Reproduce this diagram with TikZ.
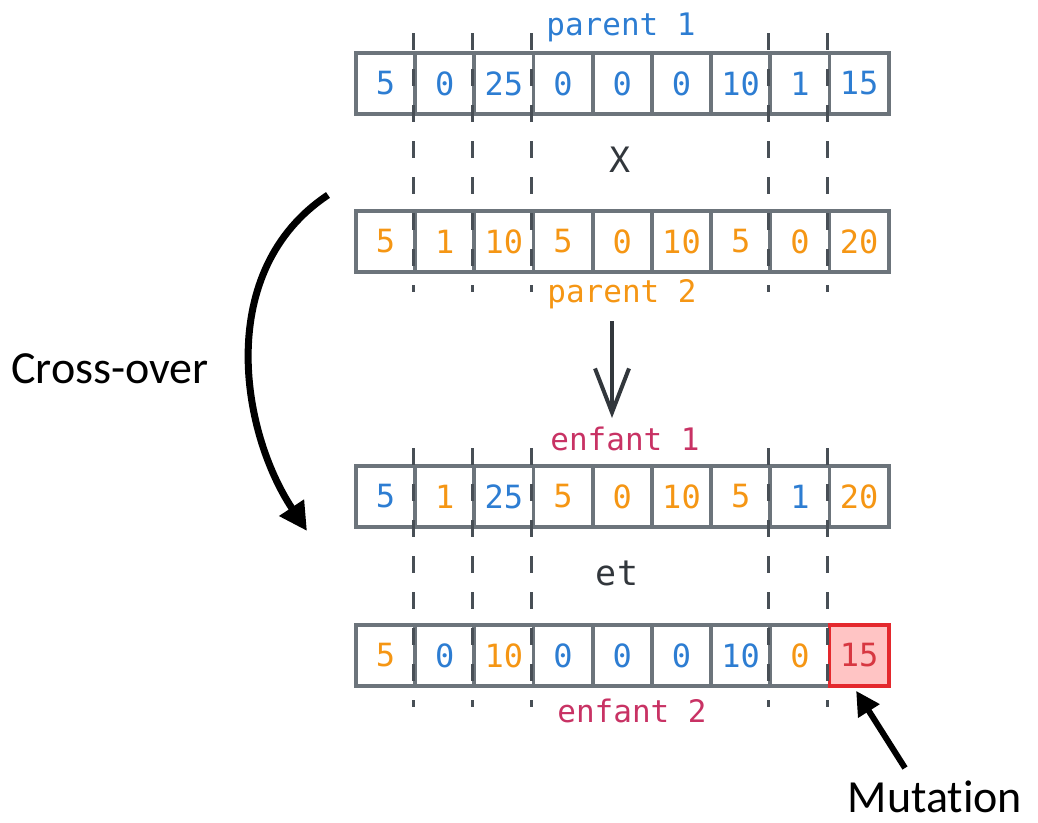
\documentclass[tikz,border=0pt]{standalone}
\usepackage{fontspec}
\setmainfont{Carlito}[Ligatures=NoCommon]
\newfontfamily\monof{DejaVu Sans Mono}
\usetikzlibrary{arrows.meta,calc}
\definecolor{bl}{RGB}{45,125,210}
\definecolor{or}{RGB}{245,150,20}
\definecolor{cr}{RGB}{200,50,100}
\definecolor{grayB}{RGB}{108,116,123}
\definecolor{dashC}{RGB}{72,79,86}
\definecolor{mutFill}{RGB}{255,196,196}
\definecolor{mutDraw}{RGB}{228,40,45}
\definecolor{mutText}{RGB}{215,55,65}
\definecolor{darkA}{RGB}{50,55,60}
\begin{document}
\begin{tikzpicture}[x=1pt,y=-1pt,
  cell/.style={draw=grayB, line width=3.8pt, minimum width=59.2pt, minimum height=61pt,
    inner sep=0pt, anchor=north west, font=\monof\fontsize{32}{32}\selectfont},
  mutcell/.style={cell, draw=mutDraw, fill=mutFill, text=mutText},
  lbl/.style={anchor=base, inner sep=0pt, font=\monof\fontsize{31}{31}\selectfont},
  op/.style={anchor=base, inner sep=0pt, text=darkA, font=\monof\fontsize{35}{35}\selectfont},
  sep/.style={draw=dashC, line width=3.2pt, dash pattern=on 17pt off 19pt},
  note/.style={anchor=base, inner sep=0pt, font=\fontsize{46}{46}\selectfont},
  bigarrow/.style={line width=7pt, -{Triangle[length=28pt,width=28pt]}},
  mutarrow/.style={line width=6pt, -{Triangle[length=24pt,width=24pt]}},
  downarrow/.style={draw=darkA, line width=4pt, -{Straight Barb[length=44pt,width=34pt,line width=4pt]}}
]
\path[use as bounding box] (0,0) rectangle (1038,822);

% rows of cells
\foreach \v/\c [count=\i] in {5/bl,0/bl,25/bl,0/bl,0/bl,0/bl,10/bl,1/bl,15/bl}
  \node[cell, text=\c] (ra\i) at ({354+59.2*(\i-1)},51) {\v};
\foreach \v/\c [count=\i] in {5/or,1/or,10/or,5/or,0/or,10/or,5/or,0/or,20/or}
  \node[cell, text=\c] (rb\i) at ({354+59.2*(\i-1)},209) {\v};
\foreach \v/\c [count=\i] in {5/bl,1/or,25/bl,5/or,0/or,10/or,5/or,1/bl,20/or}
  \node[cell, text=\c] (rc\i) at ({354+59.2*(\i-1)},464) {\v};
\foreach \v/\c [count=\i] in {5/or,0/bl,10/or,0/bl,0/bl,0/bl,10/bl,0/or}
  \node[cell, text=\c] (rd\i) at ({354+59.2*(\i-1)},623) {\v};
\node[mutcell] (rd9) at ({354+59.2*8},623) {15};

% dashed crossover separators
\foreach \i in {2,3,4,8,9}{
  \draw[sep] ($(ra\i.north west)+(0,-18)$) -- ($(rb\i.south west)+(0,18)$);
  \draw[sep] ($(rc\i.north west)+(0,-16)$) -- ($(rd\i.south west)+(0,19)$);
}

% labels
\node[lbl, text=bl] (p1) at (621,35) {parent 1};
\node[op] (x) at (620,172) {X};
\node[lbl, text=or] (p2) at (622,302) {parent 2};
\node[lbl, text=cr] (e1) at (625,450) {enfant 1};
\node[op] (et) at (617,585) {et};
\node[lbl, text=cr] (e2) at (632,722) {enfant 2};

% down arrow
\coordinate (dtop) at (612,321);
\coordinate (dbot) at (612,418);
\draw[downarrow] (dtop) -- (dbot);

% cross-over
\node[note] (co) at (110,383) {Cross-over};
\coordinate (cs) at (328,195);
\coordinate (ce) at (307,531);
\draw[bigarrow] (cs) .. controls (215,270) and (240,430) .. (ce);

% mutation
\node[note] (mu) at (935,812) {Mutation};
\coordinate (ms) at (905,768);
\draw[mutarrow] (ms) -- ($(rd9.south)+(-3,3)$);
\end{tikzpicture}
\end{document}
